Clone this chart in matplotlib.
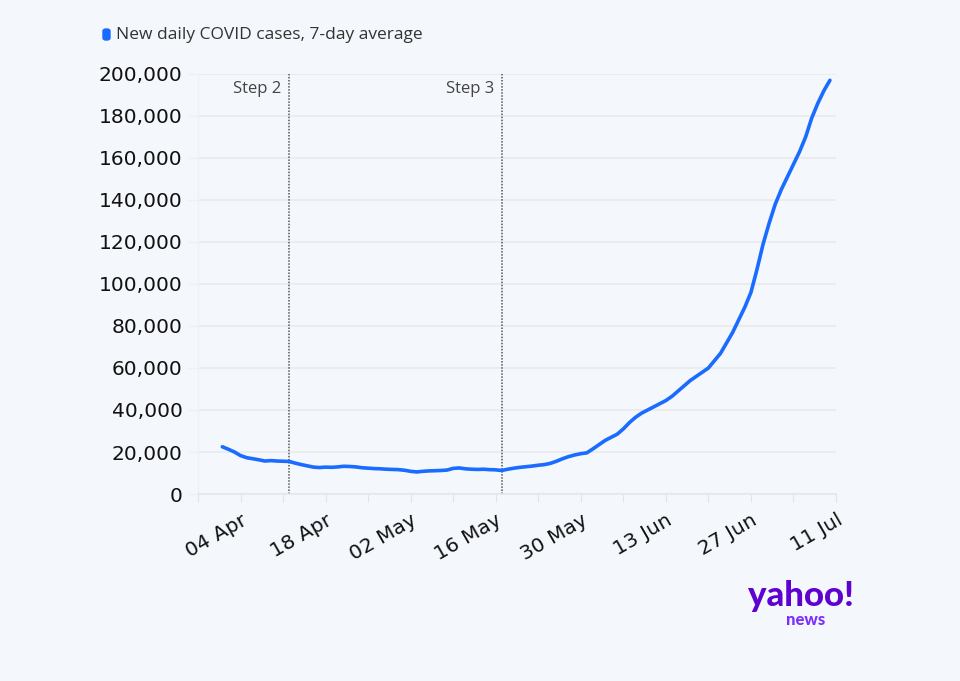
import numpy as np
import pandas as pd
import matplotlib.pyplot as plt
from matplotlib.patches import FancyBboxPatch

# daily 7-day average, 1 Apr .. 10 Jul (thousands)
start_date = "2021-04-01"
cases_k = [
    22.5, 21.3, 20.0, 18.3, 17.3, 16.8, 16.3, 15.7, 15.9, 15.7,
    15.6, 15.5, 14.7, 14.0, 13.4, 12.8, 12.6, 12.8, 12.7, 12.9,
    13.2, 13.1, 12.9, 12.5, 12.3, 12.1, 12.0, 11.8, 11.7, 11.6,
    11.3, 10.8, 10.5, 10.8, 11.0, 11.1, 11.2, 11.4, 12.2, 12.4,
    12.0, 11.8, 11.7, 11.8, 11.6, 11.5, 11.2, 11.8, 12.3, 12.7,
    13.0, 13.3, 13.7, 14.0, 14.6, 15.6, 16.8, 17.8, 18.6, 19.2,
    19.6, 21.5, 23.5, 25.5, 27.0, 28.5, 31.0, 34.0, 36.5, 38.5,
    40.0, 41.5, 43.0, 44.5, 46.5, 49.0, 51.5, 54.0, 56.0, 58.0,
    60.0, 63.5, 67.0, 72.0, 77.0, 83.0, 89.0, 96.0, 107.0, 119.0,
    129.0, 138.0, 145.0, 151.0, 157.0, 163.0, 170.0, 179.0, 186.0, 192.0,
    197.0,
]
steps = ["Step 2", "Step 3"]
step_dates = ["2021-04-12", "2021-05-17"]
yticks = [0, 20000, 40000, 60000, 80000, 100000, 120000, 140000, 160000, 180000, 200000]
series_name = "New daily COVID cases, 7-day average"

dates = pd.date_range(start_date, periods=len(cases_k), freq="D")
values = np.array(cases_k) * 1000

bg = "#f4f7fb"
blue = "#1a6bff"

plt.rcParams['font.family'] = ['DejaVu Sans']
fig = plt.figure(figsize=(9.6, 6.81), dpi=100, facecolor=bg)
ax = fig.add_axes([198/960, 1-494/681, (836-198)/960, (494-74)/681])
ax.set_facecolor(bg)

ax.plot(dates, values, color=blue, lw=2.6, solid_capstyle='round', zorder=3)

ax.set_ylim(0, 200000)
ax.set_xlim(pd.Timestamp("2021-03-28"), pd.Timestamp("2021-07-11"))
ax.set_yticks(yticks)
ax.set_yticklabels([f"{v:,}" for v in yticks], fontsize=14.5, color="#111111")

weekly = pd.date_range("2021-03-28", "2021-07-11", freq="7D")
ax.set_xticks(weekly)
ax.set_xticklabels(["" if i % 2 == 0 else d.strftime("%d %b") for i, d in enumerate(weekly)],
                   rotation=30, ha='right', rotation_mode='anchor', fontsize=14.5, color="#111111")

ax.grid(axis='y', color="#e9eaec", lw=1.2, zorder=0)
for s in ['top', 'right']:
    ax.spines[s].set_visible(False)
ax.spines['left'].set_color("#eef0f2")
ax.spines['bottom'].set_color("#e6e7e9")
ax.spines['bottom'].set_linewidth(1.2)
ax.tick_params(axis='y', length=7, color="#eef0f2", pad=4)
ax.tick_params(axis='x', length=6, color="#e3e4e6", pad=6)

for name, d in zip(steps, step_dates):
    dt = pd.Timestamp(d)
    ax.axvline(dt, color="#555555", lw=1.1, ls=(0, (1, 1)), zorder=2)
    ax.text(dt - pd.Timedelta(days=1.3), 193000, name, ha='right', va='center',
            fontsize=12, color="#444444", family=['Open Sans', 'DejaVu Sans'])

# legend
fig.patches.append(FancyBboxPatch((103/960, 1-40/681), 7/960, 11/681,
                                  boxstyle="round,pad=0,rounding_size=0.003",
                                  transform=fig.transFigure, color=blue))
fig.text(116/960, 1-35/681, series_name, ha='left', va='center', fontsize=12.5,
         color="#333333", family=['Open Sans', 'DejaVu Sans'])

# yahoo news logo
fig.text(801/960, 1-596/681, "yahoo!", ha='center', va='center', fontsize=25,
         fontweight='black', color="#5f01d1", family=['Lato', 'DejaVu Sans'])
fig.text(806/960, 1-620/681, "news", ha='center', va='center', fontsize=12,
         fontweight='black', color="#7d2eff", family=['Lato', 'DejaVu Sans'])

fig.savefig("out.png", dpi=100, facecolor=bg)
